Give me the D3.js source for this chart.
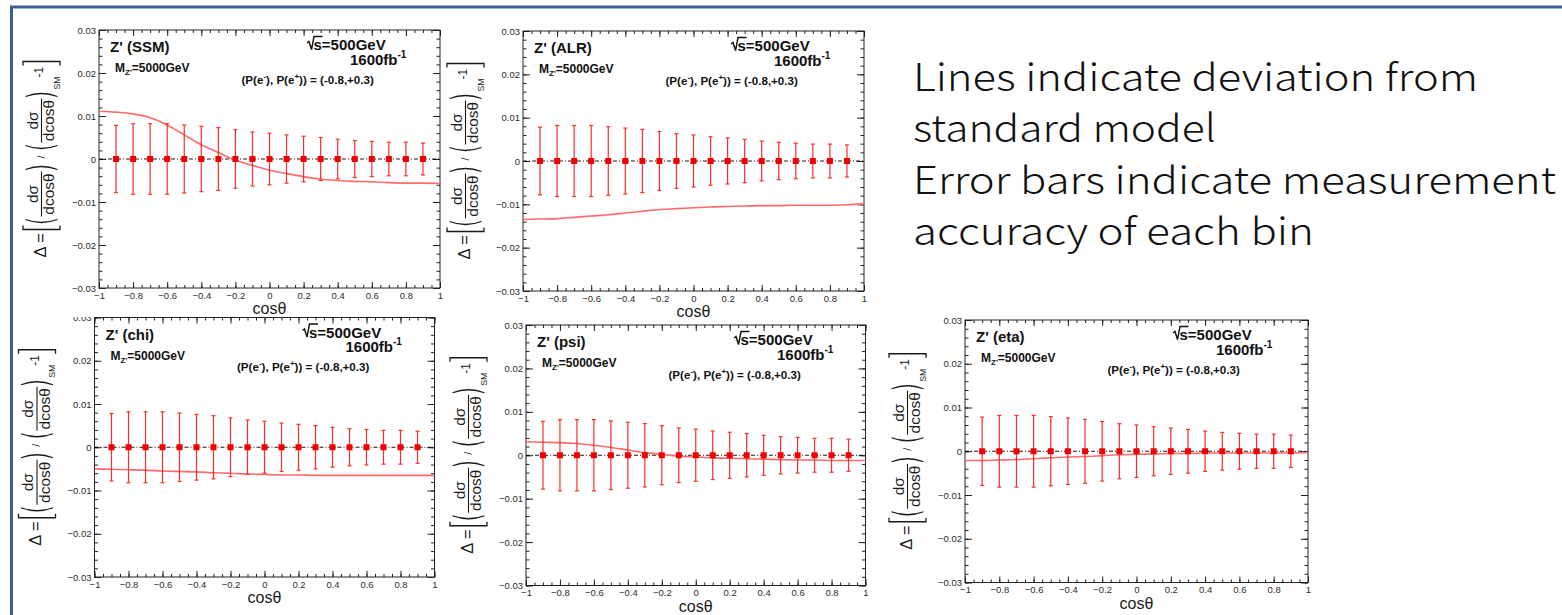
<!DOCTYPE html>
<html>
<head>
<meta charset="utf-8">
<script src="https://cdn.jsdelivr.net/npm/d3@7"></script>
<style>
  body { margin: 0; background: #fff; }
  svg { display: block; }
</style>
</head>
<body>
<div id="slide"></div>
<script>
// bin centres in cos(theta) and the measurement error of each bin
const binCenters = [-0.9, -0.8, -0.7, -0.6, -0.5, -0.4, -0.3, -0.2, -0.1, 0, 0.1, 0.2, 0.3, 0.4, 0.5, 0.6, 0.7, 0.8, 0.9]
const binErrors = [0.0078, 0.0082, 0.0082, 0.0082, 0.0079, 0.0076, 0.0073, 0.0068, 0.0063, 0.0060, 0.0056, 0.0053, 0.0050, 0.0046, 0.0043, 0.0041, 0.0039, 0.0039, 0.0037]

// points where the Z' deviation curves are sampled
const curveCos = [-1, -0.9, -0.8, -0.7, -0.6, -0.5, -0.4, -0.3, -0.2, -0.1, 0, 0.1, 0.2, 0.3, 0.4, 0.5, 0.6, 0.7, 0.8, 0.9, 1]
const ssmDeviation = [0.0111, 0.0109, 0.0105, 0.0096, 0.0079, 0.0056, 0.0033, 0.0015, -0.0003, -0.0015, -0.0026, -0.0034, -0.0041, -0.0047, -0.0050, -0.0052, -0.0053, -0.0055, -0.0056, -0.0056, -0.0057]
const alrDeviation = [-0.0135, -0.0134, -0.0133, -0.0130, -0.0127, -0.0124, -0.0120, -0.0116, -0.0112, -0.0110, -0.0108, -0.0106, -0.0105, -0.0104, -0.0103, -0.0103, -0.0102, -0.0102, -0.0102, -0.0101, -0.0099]
const chiDeviation = [-0.0050, -0.0051, -0.0052, -0.0053, -0.0055, -0.0056, -0.0057, -0.0059, -0.0060, -0.0062, -0.0063, -0.0064, -0.0064, -0.0065, -0.0065, -0.0065, -0.0065, -0.0065, -0.0065, -0.0065, -0.0065]
const psiDeviation = [0.0031, 0.0030, 0.0029, 0.0027, 0.0023, 0.0018, 0.0012, 0.0006, 0.0002, -0.0002, -0.0004, -0.0006, -0.0007, -0.0008, -0.0009, -0.0010, -0.0011, -0.0011, -0.0012, -0.0012, -0.0012]
const etaDeviation = [-0.0021, -0.0021, -0.0020, -0.0019, -0.0017, -0.0015, -0.0013, -0.0012, -0.0010, -0.0008, -0.0007, -0.0006, -0.0005, -0.0005, -0.0004, -0.0004, -0.0004, -0.0004, -0.0004, -0.0004, -0.0003]

const xTickValues = [-1, -0.8, -0.6, -0.4, -0.2, 0, 0.2, 0.4, 0.6, 0.8, 1]
const yTickValues = [-0.03, -0.02, -0.01, 0, 0.01, 0.02, 0.03]

const noteLines = [
  "Lines indicate deviation from",
  "standard model",
  "Error bars indicate measurement",
  "accuracy of each bin",
]

// plot frames on the slide; drawn back to front so the upper row sits on top
const panels = [
  { model: "chi", values: chiDeviation, frame: { x: 94.5, y: 317.5, w: 340, h: 259.5 } },
  { model: "psi", values: psiDeviation, frame: { x: 526, y: 325, w: 339.5, h: 260.5 } },
  { model: "eta", values: etaDeviation, frame: { x: 965, y: 320, w: 343, h: 262.5 } },
  { model: "SSM", values: ssmDeviation, frame: { x: 99, y: 30, w: 341, h: 258 } },
  { model: "ALR", values: alrDeviation, frame: { x: 523, y: 31, w: 341, h: 260 } },
]

const rootFont = "'Liberation Sans', Arial, Helvetica, sans-serif"
const markerColor = "#f20000"
const barColor = "#ff2a2a"
const curveColor = "#ff6b6b"
const frameColor = "#222"
const slideBlue = "#3d5c99"

const width = 1562
const height = 615

const svg = d3.select("#slide")
  .append("svg")
    .attr("width", width)
    .attr("height", height)

svg.append("rect")
  .attr("width", width)
  .attr("height", height)
  .attr("fill", "#fff")

function drawYTitle(g, frame) {
  // Delta = [ (dsigma/dcos) / (dsigma/dcos)_SM - 1 ], written bottom to top
  const t = g.append("g")
    .attr("transform", `translate(${frame.x - 57.5},${frame.y + frame.h / 2 + 98.5}) rotate(-90)`)
    .attr("fill", "#1a1a1a")
    .attr("font-family", rootFont)

  t.append("text").attr("x", 0).attr("y", 4).attr("font-size", 16.5).text("Δ =")

  const strokes = t.append("g")
    .attr("fill", "none")
    .attr("stroke", "#1a1a1a")
    .attr("stroke-width", 1.3)
  strokes.append("path").attr("d", "M32,-18.5 H28 V18.5 H32")
  strokes.append("path").attr("d", "M192,-18.5 H196 V18.5 H192")

  const fractions = [{ from: 41, to: 86 }, { from: 115, to: 159 }]
  fractions.forEach(f => {
    const mid = (f.from + f.to) / 2
    strokes.append("path").attr("d", `M${f.from - 3},-16 Q${f.from - 9},0 ${f.from - 3},16`)
    strokes.append("path").attr("d", `M${f.to + 2},-16 Q${f.to + 8},0 ${f.to + 2},16`)
    strokes.append("line")
      .attr("x1", f.from).attr("x2", f.to)
      .attr("y1", 0).attr("y2", 0)
      .attr("stroke-width", 1.1)
    t.append("text").attr("x", mid).attr("y", -4).attr("text-anchor", "middle")
      .attr("font-size", 15.5).text("dσ")
    t.append("text").attr("x", mid).attr("y", 12.5).attr("text-anchor", "middle")
      .attr("font-size", 15.5).text("dcosθ")
  })

  t.append("text").attr("x", 99).attr("y", 3).attr("font-size", 11).text("/")
  t.append("text").attr("x", 168).attr("y", 18).attr("font-size", 8.8).text("SM")
  t.append("text").attr("x", 180).attr("y", 1.5).attr("font-size", 12).text("-1")
}

function drawPanelText(g, frame, model) {
  const lbl = g.append("g")
    .attr("font-family", rootFont)
    .attr("font-weight", "bold")
    .attr("fill", "#111")
    .attr("transform", `translate(${frame.x},${frame.y})`)

  lbl.append("text").attr("x", 11).attr("y", 22).attr("font-size", 15).text(`Z' (${model})`)

  const mass = lbl.append("text").attr("x", 16).attr("y", 42).attr("font-size", 12)
  mass.append("tspan").text("M")
  mass.append("tspan").attr("font-size", 8).attr("dy", 3).text("Z'")
  mass.append("tspan").attr("dy", -3).text("=5000GeV")

  // sqrt(s) with a drawn radical
  lbl.append("path")
    .attr("d", "M208,13 L210,11.5 L212.5,19.5 L215,6.5 H223.5")
    .attr("fill", "none")
    .attr("stroke", "#111")
    .attr("stroke-width", 1.4)
  lbl.append("text").attr("x", 214.5).attr("y", 20).attr("font-size", 15).text("s=500GeV")

  const lumi = lbl.append("text").attr("x", 251).attr("y", 34.5).attr("font-size", 15)
  lumi.append("tspan").text("1600fb")
  lumi.append("tspan").attr("font-size", 10).attr("dy", -7).text("-1")

  const pol = lbl.append("text").attr("x", 142.5).attr("y", 53.5).attr("font-size", 11.6)
  pol.append("tspan").text("(P(e")
  pol.append("tspan").attr("font-size", 8).attr("dy", -5).text("-")
  pol.append("tspan").attr("dy", 5).text("), P(e")
  pol.append("tspan").attr("font-size", 8).attr("dy", -5).text("+")
  pol.append("tspan").attr("dy", 5).text(")) = (-0.8,+0.3)")
}

function drawPanel({ model, values, frame }) {
  const g = svg.append("g")

  // white sheet behind each plot
  g.append("rect")
    .attr("x", frame.x - 78)
    .attr("y", frame.y - 22)
    .attr("width", frame.w + 85)
    .attr("height", frame.h + 51)
    .attr("fill", "#fff")

  const xScale = d3.scaleLinear().domain([-1, 1]).range([frame.x, frame.x + frame.w])
  const yScale = d3.scaleLinear().domain([-0.03, 0.03]).range([frame.y + frame.h, frame.y])
  const bottom = frame.y + frame.h
  const right = frame.x + frame.w

  const styleAxis = sel => {
    sel.select(".domain").remove()
    sel.selectAll(".tick line").attr("stroke", frameColor)
    sel.selectAll(".tick text")
      .attr("fill", "#2b2b2b")
      .attr("font-family", rootFont)
      .attr("font-size", 9.5)
  }

  // minor ticks on all four sides, pointing inwards
  const xMinor = xScale.ticks(40)
  const yMinor = yScale.ticks(30)
  const minorX = d3.axisBottom(xScale).tickValues(xMinor).tickSize(-3).tickFormat("")
  const minorXTop = d3.axisTop(xScale).tickValues(xMinor).tickSize(-3).tickFormat("")
  const minorY = d3.axisLeft(yScale).tickValues(yMinor).tickSize(-3.5).tickFormat("")
  const minorYRight = d3.axisRight(yScale).tickValues(yMinor).tickSize(-3.5).tickFormat("")
  g.append("g").attr("transform", `translate(0,${bottom})`).call(minorX).call(styleAxis)
  g.append("g").attr("transform", `translate(0,${frame.y})`).call(minorXTop).call(styleAxis)
  g.append("g").attr("transform", `translate(${frame.x},0)`).call(minorY).call(styleAxis)
  g.append("g").attr("transform", `translate(${right},0)`).call(minorYRight).call(styleAxis)

  // major ticks and labels
  const fmt = d3.format("~g")
  g.append("g")
    .attr("transform", `translate(0,${bottom})`)
    .call(d3.axisBottom(xScale).tickValues(xTickValues).tickSize(-6).tickPadding(4).tickFormat(fmt))
    .call(styleAxis)
  g.append("g")
    .attr("transform", `translate(0,${frame.y})`)
    .call(d3.axisTop(xScale).tickValues(xTickValues).tickSize(-6).tickFormat(""))
    .call(styleAxis)
  g.append("g")
    .attr("transform", `translate(${frame.x},0)`)
    .call(d3.axisLeft(yScale).tickValues(yTickValues).tickSize(-7).tickPadding(3).tickFormat(fmt))
    .call(styleAxis)
  g.append("g")
    .attr("transform", `translate(${right},0)`)
    .call(d3.axisRight(yScale).tickValues(yTickValues).tickSize(-7).tickFormat(""))
    .call(styleAxis)

  g.append("rect")
    .attr("x", frame.x)
    .attr("y", frame.y)
    .attr("width", frame.w)
    .attr("height", frame.h)
    .attr("fill", "none")
    .attr("stroke", frameColor)
    .attr("stroke-width", 1)

  // standard model reference line
  g.append("line")
    .attr("x1", xScale(-1))
    .attr("x2", xScale(1))
    .attr("y1", yScale(0))
    .attr("y2", yScale(0))
    .attr("stroke", "#000")
    .attr("stroke-width", 0.9)
    .attr("stroke-dasharray", "4,2,1,2")

  const lineGenerator = d3.line()
    .x(d => xScale(d[0]))
    .y(d => yScale(d[1]))
    .curve(d3.curveMonotoneX)

  g.append("path")
    .attr("d", lineGenerator(d3.zip(curveCos, values)))
    .attr("fill", "none")
    .attr("stroke", curveColor)
    .attr("stroke-width", 1.6)

  const bins = d3.zip(binCenters, binErrors)
  const bars = g.append("g")
    .attr("stroke", barColor)
    .attr("stroke-width", 1.2)
  bars.selectAll(".bar")
    .data(bins)
    .join("line")
      .attr("x1", d => xScale(d[0]))
      .attr("x2", d => xScale(d[0]))
      .attr("y1", d => yScale(-d[1]))
      .attr("y2", d => yScale(d[1]))
  bars.selectAll(".cap-hi")
    .data(bins)
    .join("line")
      .attr("x1", d => xScale(d[0]) - 2)
      .attr("x2", d => xScale(d[0]) + 2)
      .attr("y1", d => yScale(d[1]))
      .attr("y2", d => yScale(d[1]))
  bars.selectAll(".cap-lo")
    .data(bins)
    .join("line")
      .attr("x1", d => xScale(d[0]) - 2)
      .attr("x2", d => xScale(d[0]) + 2)
      .attr("y1", d => yScale(-d[1]))
      .attr("y2", d => yScale(-d[1]))

  g.append("g")
    .selectAll("rect")
    .data(binCenters)
    .join("rect")
      .attr("x", d => xScale(d) - 3)
      .attr("y", yScale(0) - 3)
      .attr("width", 6)
      .attr("height", 6)
      .attr("fill", markerColor)

  g.append("text")
    .attr("x", xScale(0))
    .attr("y", bottom + 26)
    .attr("text-anchor", "middle")
    .attr("font-family", rootFont)
    .attr("font-size", 16)
    .attr("fill", "#1a1a1a")
    .text("cosθ")

  drawYTitle(g, frame)
  drawPanelText(g, frame, model)
}

panels.forEach(drawPanel)

// explanatory note to the right of the plots
const noteWidths = [565, 303, 643, 401]
svg.append("g")
  .attr("font-family", "'Noto Sans CJK JP', 'Noto Sans', sans-serif")
  .attr("font-weight", 300)
  .attr("font-size", 38)
  .attr("fill", "#111")
  .selectAll("text")
  .data(noteLines)
  .join("text")
    .attr("x", 913)
    .attr("y", (d, i) => 91 + i * 51.3)
    .attr("textLength", (d, i) => noteWidths[i])
    .attr("lengthAdjust", "spacingAndGlyphs")
    .text(d => d)

// slide border
svg.append("path")
  .attr("d", `M11.5,${height} V7 H${width}`)
  .attr("fill", "none")
  .attr("stroke", slideBlue)
  .attr("stroke-width", 3)
</script>
</body>
</html>
